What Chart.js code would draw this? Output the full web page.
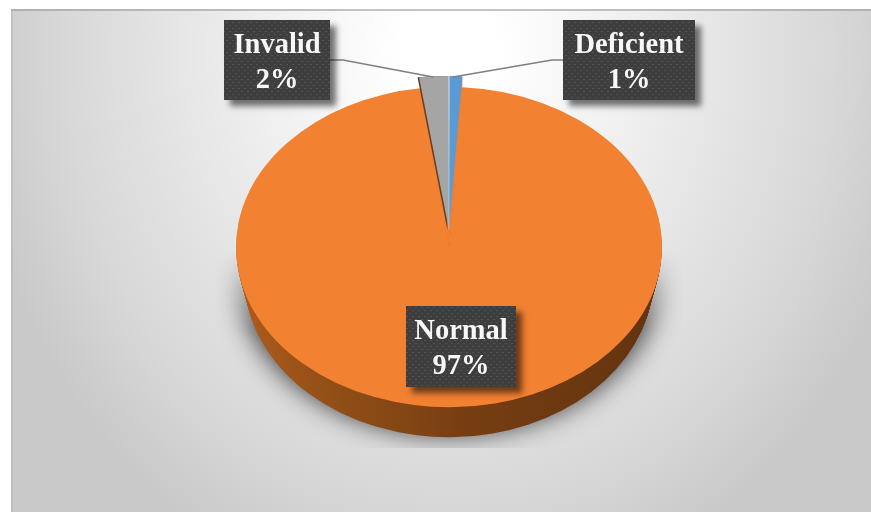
<!DOCTYPE html>
<html>
<head>
<meta charset="utf-8">
<script src="https://cdn.jsdelivr.net/npm/chart.js@4"></script>
<style>html,body{margin:0;padding:0;background:#fff}canvas{display:block}</style>
</head>
<body>
<canvas id="c" width="871" height="512"></canvas>
<script>
const categories = ['Deficient', 'Normal', 'Invalid'];
const percentValues = [1, 97, 2];
const sliceColors = ['#5B9BD5', '#F28131', '#A5A5A5'];

// Styling: 3D look of each slice and where each callout sits
const sliceTilt = [0.723, 0.752, 0.723];
const sliceLift = [-17, 0, -17];
const sliceWiden = [1, 1, 1.12];
const wallDepth = 30;
const boxes = [
  {x: 563, y: 20, w: 132, h: 80, b1: 53, b2: 88},
  {x: 406, y: 306, w: 110, h: 81, b1: 339, b2: 374},
  {x: 224, y: 20, w: 106, h: 80, b1: 53, b2: 88}
];
const leaders = [
  [[563, 60], [552, 60], [453, 77]],
  null,
  [[330, 60], [343, 60], [433, 77]]
];

function ghost(arc, fill) {
  const g = Object.create(arc);
  g.options = {backgroundColor: fill, borderColor: 'transparent', borderWidth: 0, borderAlign: 'center',
    offset: 0, spacing: 0, circular: true, borderRadius: 0, borderJoinStyle: 'round', borderDash: [], borderDashOffset: 0};
  return g;
}
function place(ctx, arc, i, dy, sx, dx) {
  ctx.translate(arc.x + (dx || 0), arc.y + sliceLift[i] + dy);
  ctx.scale(sx, sliceTilt[i]);
  ctx.translate(-arc.x, -arc.y);
}

const background = {
  id: 'background',
  beforeDraw(chart) {
    const ctx = chart.ctx;
    ctx.save();
    ctx.fillStyle = '#fff';
    ctx.fillRect(0, 0, 871, 512);
    ctx.beginPath();
    ctx.rect(11, 9, 860, 503);
    ctx.clip();
    ctx.translate(449, 50);
    ctx.scale(480, 560);
    const g = ctx.createRadialGradient(0, 0, 0, 0, 0, 1);
    g.addColorStop(0, '#ffffff');
    g.addColorStop(0.1, '#ffffff');
    g.addColorStop(0.4, '#efefef');
    g.addColorStop(0.8, '#d8d8d8');
    g.addColorStop(1, '#c9c9c9');
    ctx.fillStyle = g;
    ctx.fillRect(-2, -2, 4, 4);
    ctx.restore();
    ctx.save();
    ctx.fillStyle = 'rgba(150,150,150,0.55)';
    ctx.fillRect(11, 9, 860, 2);
    ctx.fillStyle = 'rgba(170,170,170,0.35)';
    ctx.fillRect(11, 11, 2, 501);
    ctx.restore();
  }
};

const pie3d = {
  id: 'pie3d',
  beforeDatasetDraw(chart, args) {
    const ctx = chart.ctx;
    const arcs = args.meta.data;
    const main = 1;
    const a = arcs[main];
    const wall = ctx.createLinearGradient(a.x - a.outerRadius, 0, a.x + a.outerRadius, 0);
    wall.addColorStop(0, '#B05A1B');
    wall.addColorStop(0.2, '#935017');
    wall.addColorStop(0.55, '#763D12');
    wall.addColorStop(1, '#63340F');

    // soft shadow under the disc, fading out upwards and cut flat below
    const off = document.createElement('canvas');
    off.width = chart.width;
    off.height = chart.height;
    const o = off.getContext('2d');
    const away = 3000;
    o.save();
    o.beginPath();
    o.rect(a.x - a.outerRadius - 20, 240, 2 * a.outerRadius + 40, 208);
    o.clip();
    o.shadowColor = 'rgba(0,0,0,0.7)';
    o.shadowBlur = 26;
    o.shadowOffsetX = away;
    place(o, a, main, wallDepth - 2, 0.99, -away);
    ghost(a, '#000').draw(o);
    o.restore();
    o.globalCompositeOperation = 'destination-in';
    const fade = o.createLinearGradient(0, 250, 0, 330);
    fade.addColorStop(0, 'rgba(0,0,0,0)');
    fade.addColorStop(1, 'rgba(0,0,0,1)');
    o.fillStyle = fade;
    o.fillRect(0, 0, off.width, off.height);
    ctx.drawImage(off, 0, 0);

    // side wall
    for (let d = wallDepth; d >= 1; d--) {
      ctx.save();
      place(ctx, a, main, d, 1 - 0.04 * d / wallDepth);
      ghost(a, wall).draw(ctx);
      ctx.restore();
    }
    // close the notch below the tip of the two small slices
    [2, 0].forEach(i => {
      for (let d = 18; d >= 1; d -= 2) {
        ctx.save();
        place(ctx, arcs[i], i, d, 1);
        ghost(arcs[i], sliceColors[main]).draw(ctx);
        ctx.restore();
      }
    });
    // main top face
    ctx.save();
    place(ctx, a, main, 0, 1);
    a.draw(ctx);
    ctx.restore();
    // dark cut edge left of the grey slice
    ctx.save();
    place(ctx, arcs[2], 2, 0, sliceWiden[2], -1.6);
    ghost(arcs[2], '#6A3F22').draw(ctx);
    ctx.restore();
    // small slices
    [2, 0].forEach(i => {
      ctx.save();
      place(ctx, arcs[i], i, 0, sliceWiden[i]);
      arcs[i].draw(ctx);
      ctx.restore();
    });
    // pale seam between the two small slices
    const w = arcs[0];
    const apex = w.y + sliceLift[0];
    const seam = ctx.createLinearGradient(0, apex - w.outerRadius * sliceTilt[0], 0, apex);
    seam.addColorStop(0, 'rgba(225,235,245,0.95)');
    seam.addColorStop(1, 'rgba(225,235,245,0.3)');
    ctx.save();
    ctx.strokeStyle = seam;
    ctx.lineWidth = 1;
    ctx.beginPath();
    ctx.moveTo(w.x, apex);
    ctx.lineTo(w.x, apex - w.outerRadius * sliceTilt[0]);
    ctx.stroke();
    ctx.restore();
    return false;
  }
};

const callouts = {
  id: 'callouts',
  afterDraw(chart) {
    const ctx = chart.ctx;
    const tile = document.createElement('canvas');
    tile.width = 6; tile.height = 6;
    const t = tile.getContext('2d');
    t.fillStyle = '#3E3E3E';
    t.fillRect(0, 0, 6, 6);
    t.fillStyle = '#525252';
    t.fillRect(1, 1, 2, 1);
    t.fillRect(4, 4, 2, 1);
    const pattern = ctx.createPattern(tile, 'repeat');

    ctx.save();
    ctx.strokeStyle = '#7F7F7F';
    ctx.lineWidth = 1.3;
    leaders.forEach(pts => {
      if (!pts) return;
      ctx.beginPath();
      pts.forEach((p, k) => k ? ctx.lineTo(p[0], p[1]) : ctx.moveTo(p[0], p[1]));
      ctx.stroke();
    });
    ctx.restore();

    categories.forEach((name, i) => {
      const b = boxes[i];
      ctx.save();
      ctx.shadowColor = 'rgba(0,0,0,0.55)';
      ctx.shadowBlur = 6;
      ctx.shadowOffsetX = 6;
      ctx.shadowOffsetY = 6;
      ctx.fillStyle = '#3E3E3E';
      ctx.fillRect(b.x, b.y, b.w, b.h);
      ctx.restore();
      ctx.save();
      ctx.fillStyle = pattern;
      ctx.fillRect(b.x, b.y, b.w, b.h);
      ctx.fillStyle = '#F7F7F7';
      ctx.font = 'bold 28.5px "Liberation Serif"';
      ctx.textAlign = 'center';
      ctx.textBaseline = 'alphabetic';
      ctx.fillText(name, b.x + b.w / 2, b.b1);
      ctx.fillText(percentValues[i] + '%', b.x + b.w / 2, b.b2);
      ctx.restore();
    });
  }
};

new Chart(document.getElementById('c'), {
  type: 'pie',
  data: {
    labels: categories,
    datasets: [{data: percentValues, backgroundColor: sliceColors, borderWidth: 0}]
  },
  options: {
    responsive: false,
    animation: false,
    radius: 213,
    layout: {padding: {left: 27, bottom: 18}},
    plugins: {legend: {display: false}, tooltip: {enabled: false}, title: {display: false}}
  },
  plugins: [background, pie3d, callouts]
});
</script>
</body>
</html>
